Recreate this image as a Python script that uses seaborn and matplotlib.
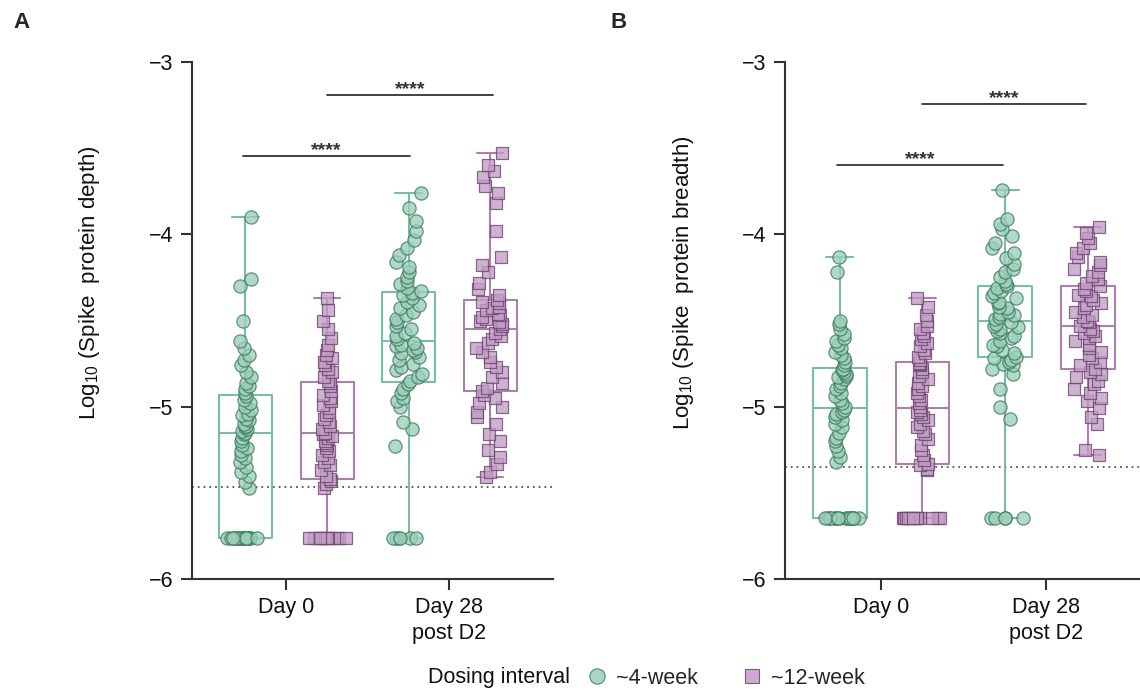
import numpy as np
import pandas as pd
import seaborn as sns
import matplotlib.pyplot as plt
from matplotlib.lines import Line2D

sns.set_style("ticks")
plt.rcParams["font.family"] = ["Liberation Sans", "DejaVu Sans"]
plt.rcParams["mathtext.fontset"] = "custom"
plt.rcParams["mathtext.rm"] = "Liberation Sans"

groups = ["4wk_d0", "12wk_d0", "4wk_d28", "12wk_d28"]
intervals = ["~4-week", "~12-week"]
timepoints = ["Day 0", "Day 28\npost D2"]

# values sitting on the assay floor
depth_floor = -5.76
breadth_floor = -5.645
# dotted threshold lines
depth_cutoff = -5.465
breadth_cutoff = -5.35

depth_4wk_d0 = [-5.76, -5.76, -5.76, -5.76, -5.76, -5.76, -5.76, -5.76,
                -5.76, -5.76, -5.76, -5.76, -5.76, -5.76, -5.76, -5.76,
                -5.47, -5.44, -5.40, -5.38, -5.35, -5.32, -5.30, -5.28, -5.26, -5.24,
                -5.22, -5.20, -5.18, -5.16, -5.15, -5.14, -5.13, -5.12, -5.11, -5.10,
                -5.08, -5.07, -5.05, -5.04, -5.02, -5.00, -4.98, -4.96, -4.94, -4.92,
                -4.90, -4.88, -4.86, -4.83, -4.80, -4.76, -4.73, -4.70, -4.66, -4.62,
                -4.50, -4.30, -4.26, -3.90]
depth_12wk_d0 = [-5.76, -5.76, -5.76, -5.76, -5.76, -5.76, -5.76, -5.76,
                 -5.76, -5.76, -5.76, -5.76,
                 -5.47, -5.45, -5.43, -5.42, -5.40, -5.37, -5.34, -5.32, -5.30, -5.28,
                 -5.26, -5.24, -5.22, -5.21, -5.20, -5.18, -5.17, -5.16, -5.15, -5.13,
                 -5.11, -5.09, -5.07, -5.05, -5.03, -5.01, -4.99, -4.97, -4.95, -4.93,
                 -4.91, -4.88, -4.86, -4.85, -4.83, -4.80, -4.78, -4.76, -4.74, -4.72,
                 -4.70, -4.67, -4.64, -4.60, -4.55, -4.50, -4.44, -4.37]
depth_4wk_d28 = [-5.76, -5.76, -5.76, -5.76, -5.76, -5.76,
                 -5.23, -5.13, -5.09, -5.00, -4.97, -4.95, -4.92, -4.90, -4.87, -4.85,
                 -4.83, -4.81, -4.79, -4.77, -4.75, -4.73, -4.71, -4.69, -4.68, -4.67,
                 -4.66, -4.65, -4.64, -4.63, -4.61, -4.59, -4.57, -4.55, -4.53, -4.51,
                 -4.49, -4.47, -4.45, -4.43, -4.41, -4.39, -4.37, -4.35, -4.34, -4.33,
                 -4.31, -4.29, -4.27, -4.25, -4.22, -4.19, -4.16, -4.12, -4.08, -4.03,
                 -3.98, -3.92, -3.85, -3.76]
depth_12wk_d28 = [-5.41, -5.38, -5.33, -5.29, -5.25, -5.20, -5.16, -5.10, -5.06, -5.03,
                  -5.00, -4.98, -4.95, -4.93, -4.91, -4.89, -4.86, -4.83, -4.80, -4.77,
                  -4.74, -4.71, -4.68, -4.66, -4.63, -4.61, -4.59, -4.57, -4.55, -4.53,
                  -4.52, -4.51, -4.50, -4.49, -4.48, -4.47, -4.46, -4.44, -4.43, -4.42,
                  -4.40, -4.39, -4.38, -4.35, -4.32, -4.28, -4.22, -4.18, -4.13, -3.98,
                  -3.82, -3.76, -3.72, -3.67, -3.63, -3.60, -3.53]

breadth_4wk_d0 = [-5.645, -5.645, -5.645, -5.645, -5.645, -5.645, -5.645, -5.645,
                  -5.645, -5.645, -5.645, -5.645, -5.645, -5.645, -5.645, -5.645,
                  -5.32, -5.29, -5.26, -5.23, -5.20, -5.18, -5.15, -5.12, -5.10, -5.08,
                  -5.06, -5.04, -5.03, -5.02, -5.00, -4.98, -4.96, -4.94, -4.92, -4.90,
                  -4.88, -4.86, -4.84, -4.83, -4.82, -4.81, -4.80, -4.79, -4.78, -4.76,
                  -4.74, -4.72, -4.70, -4.68, -4.66, -4.64, -4.62, -4.60, -4.58, -4.55,
                  -4.52, -4.50, -4.22, -4.13]
breadth_12wk_d0 = [-5.645, -5.645, -5.645, -5.645, -5.645, -5.645, -5.645, -5.645,
                   -5.645, -5.645, -5.645, -5.645,
                   -5.37, -5.36, -5.34, -5.33, -5.31, -5.28, -5.25, -5.22, -5.19, -5.16,
                   -5.14, -5.12, -5.10, -5.08, -5.06, -5.04, -5.03, -5.02, -5.00, -4.98,
                   -4.96, -4.94, -4.92, -4.90, -4.88, -4.86, -4.84, -4.82, -4.80, -4.78,
                   -4.76, -4.75, -4.745, -4.73, -4.71, -4.69, -4.67, -4.65, -4.63, -4.61,
                   -4.59, -4.57, -4.55, -4.53, -4.50, -4.47, -4.42, -4.37]
breadth_4wk_d28 = [-5.645, -5.645, -5.645, -5.645, -5.645,
                   -5.07, -5.00, -4.90, -4.81, -4.78, -4.76, -4.75, -4.74, -4.73, -4.72,
                   -4.71, -4.69, -4.67, -4.65, -4.64, -4.62, -4.60, -4.59, -4.57, -4.56,
                   -4.55, -4.54, -4.53, -4.52, -4.51, -4.49, -4.48, -4.47, -4.46, -4.45,
                   -4.43, -4.42, -4.40, -4.39, -4.37, -4.36, -4.34, -4.33, -4.31, -4.30,
                   -4.29, -4.27, -4.25, -4.22, -4.20, -4.17, -4.14, -4.11, -4.08, -4.05,
                   -4.01, -3.97, -3.94, -3.91, -3.74]
breadth_12wk_d28 = [-5.28, -5.25, -5.10, -5.06, -5.01, -4.97, -4.95, -4.92, -4.90, -4.87,
                    -4.85, -4.83, -4.81, -4.80, -4.78, -4.76, -4.74, -4.72, -4.70, -4.68,
                    -4.66, -4.64, -4.62, -4.60, -4.59, -4.57, -4.56, -4.55, -4.53, -4.51,
                    -4.50, -4.48, -4.47, -4.45, -4.43, -4.41, -4.40, -4.38, -4.36, -4.35,
                    -4.33, -4.32, -4.30, -4.28, -4.26, -4.24, -4.22, -4.20, -4.18, -4.16,
                    -4.13, -4.11, -4.08, -4.05, -4.02, -3.99, -3.96]

depth_lists = [depth_4wk_d0, depth_12wk_d0, depth_4wk_d28, depth_12wk_d28]
breadth_lists = [breadth_4wk_d0, breadth_12wk_d0, breadth_4wk_d28, breadth_12wk_d28]
group_interval = ["~4-week", "~12-week", "~4-week", "~12-week"]


def make_df(lists):
    rows = []
    for g, iv, vals in zip(groups, group_interval, lists):
        for v in vals:
            rows.append({"group": g, "interval": iv, "value": v})
    return pd.DataFrame(rows)


depth_df = make_df(depth_lists)
breadth_df = make_df(breadth_lists)

box_colors = {"~4-week": "#79bda2", "~12-week": "#ab80ad"}
face_colors = {"~4-week": "#9ccfb8", "~12-week": "#c29dc5"}
edge_colors = {"~4-week": "#3a7760", "~12-week": "#6a446e"}
markers = {"~4-week": "o", "~12-week": "s"}
axis_color = "#333333"

np.random.seed(2)


def draw_panel(ax, df, floor, cutoff, xlim, sig):
    sns.boxplot(data=df, x="group", y="value", hue="interval", order=groups,
                hue_order=intervals, palette=box_colors, fill=False, width=0.65,
                whis=(0, 100), dodge=False, linewidth=1.5, showfliers=False,
                legend=False, ax=ax)
    for g, iv in zip(groups, group_interval):
        sub = df[df["group"] == g]
        on_floor = sub[sub["value"] <= floor + 1e-9]
        above = sub[sub["value"] > floor + 1e-9]
        jit = 0.07 if g.endswith("d0") else 0.17
        for part, j in [(on_floor, 0.24), (above, jit)]:
            if len(part) == 0:
                continue
            sns.stripplot(x=part["group"], y=part["value"], order=groups, jitter=j,
                          marker=markers[iv], size=9.5 if iv == "~4-week" else 9,
                          color=face_colors[iv], edgecolor=edge_colors[iv],
                          linewidth=0.9, alpha=0.78, zorder=3, ax=ax)
    ax.axhline(cutoff, ls=(0, (1, 2.2)), color="#555555", lw=1.3, zorder=1)

    for (x0, x1, y) in sig:
        ax.plot([x0, x1], [y, y], color=axis_color, lw=1.3, clip_on=False)
        ax.text((x0 + x1) / 2, y + 0.005, "****", ha="center", va="baseline",
                fontsize=14, fontweight="bold", color=axis_color)

    ax.set_xlim(*xlim)
    ax.set_ylim(-6, -3)
    ax.set_yticks([-6, -5, -4, -3])
    ax.set_xticks([0.5, 2.5])
    ax.set_xticklabels(timepoints, linespacing=1.3)
    ax.set_xlabel("")
    ax.set_ylabel("")
    sns.despine(ax=ax)
    for s in ["left", "bottom"]:
        ax.spines[s].set_linewidth(1.5)
        ax.spines[s].set_color(axis_color)
    ax.tick_params(direction="out", length=8, width=1.5, color=axis_color,
                   labelsize=15.5, labelcolor="#111111", pad=5)


W, H = 1140, 691
fig = plt.figure(figsize=(11.4, 6.91), dpi=100)

ax_a = fig.add_axes([191.6 / W, (H - 579) / H, (553 - 191.6) / W, (579 - 62) / H])
ax_b = fig.add_axes([784.5 / W, (H - 579) / H, (1139 - 784.5) / W, (579 - 62) / H])

draw_panel(ax_a, depth_df, depth_floor, depth_cutoff, (-0.66, 3.77),
           [(-0.03, 2.02, -3.544), (1.0, 3.03, -3.19)])
draw_panel(ax_b, breadth_df, breadth_floor, breadth_cutoff, (-0.67, 3.62),
           [(-0.04, 1.98, -3.598), (1.0, 2.98, -3.245)])

fig.text(89 / W, 1 - 283 / H, r"Log$_{10}$ (Spike  protein depth)", rotation=90,
         ha="center", va="center", fontsize=16, color="#111111")
fig.text(683 / W, 1 - 283 / H, r"Log$_{10}$ (Spike  protein breadth)", rotation=90,
         ha="center", va="center", fontsize=16, color="#111111")

fig.text(22 / W, 1 - 22 / H, "A", fontsize=16, fontweight="bold", ha="center", va="center")
fig.text(619 / W, 1 - 22 / H, "B", fontsize=16, fontweight="bold", ha="center", va="center")

# legend
fig.text(570 / W, 1 - 678 / H, "Dosing interval", ha="right", va="center",
         fontsize=15.5, color="#111111")
handles = [Line2D([], [], ls="", marker=markers[iv], markersize=11 if iv == "~4-week" else 10,
                  markerfacecolor=face_colors[iv], markeredgecolor=edge_colors[iv],
                  markeredgewidth=0.8, alpha=0.85) for iv in intervals]
fig.legend(handles, intervals, loc="center left", bbox_to_anchor=(588 / W, 1 - 678 / H),
           ncol=2, frameon=False, fontsize=15.5, handlelength=0.8, handletextpad=0.5,
           columnspacing=2.1, borderpad=0, borderaxespad=0)

fig.savefig("out.png", dpi=100)
